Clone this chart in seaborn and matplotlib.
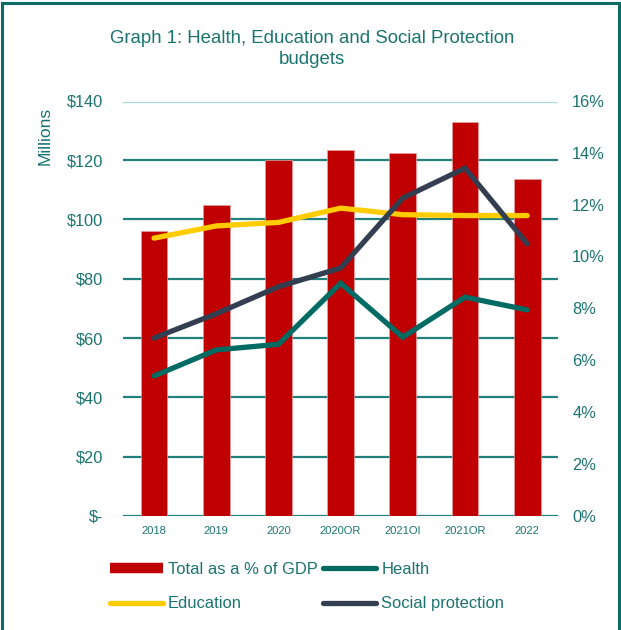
import matplotlib
matplotlib.use("Agg")
import matplotlib.pyplot as plt
from matplotlib.lines import Line2D
from matplotlib.patches import Rectangle
import seaborn as sns
import pandas as pd

years = ["2018", "2019", "2020", "2020OR", "2021OI", "2021OR", "2022"]
total_pct_gdp = [11.0, 12.0, 13.7, 14.1, 14.0, 15.2, 13.0]
health = [47.2, 56.0, 57.9, 78.5, 60.3, 73.8, 69.5]
education = [93.7, 97.8, 99.0, 103.8, 101.6, 101.3, 101.3]
social_protection = [60.0, 68.2, 77.3, 83.6, 107.2, 117.3, 91.8]

left_ticks = [0, 20, 40, 60, 80, 100, 120, 140]
right_ticks = [0, 2, 4, 6, 8, 10, 12, 14, 16]

TEAL_TEXT = "#1b7470"
GRID = "#21807c"
RED = "#c00000"
C_HEALTH = "#006b63"
C_EDU = "#ffcc00"
C_SOC = "#333f50"

sns.set_theme(style="white")
plt.rcParams["font.family"] = ["Liberation Sans", "DejaVu Sans"]

fig = plt.figure(figsize=(6.21, 6.30), dpi=100)
ax_bar = fig.add_axes([0.198, 0.181, 0.701, 0.659])
ax_line = ax_bar.twinx()

bars = pd.DataFrame({"year": years, "pct": total_pct_gdp})
sns.barplot(data=bars, x="year", y="pct", order=years, color=RED,
            width=0.43, saturation=1, edgecolor="#e8a0a0", linewidth=0.5,
            ax=ax_bar)
ax_bar.set_ylim(0, 16)
ax_bar.set_xlim(-0.5, len(years) - 0.5)

lines = pd.DataFrame({"year": years * 3,
                      "value": health + education + social_protection,
                      "series": ["Health"] * 7 + ["Education"] * 7
                                + ["Social protection"] * 7})
sns.lineplot(data=lines, x="year", y="value", hue="series", sort=False,
             palette={"Health": C_HEALTH, "Education": C_EDU,
                      "Social protection": C_SOC},
             linewidth=3.8, legend=False, ax=ax_line)
for ln in ax_line.get_lines():
    ln.set_solid_capstyle("round")
    ln.set_solid_joinstyle("miter")
ax_line.set_ylim(0, 140)

# gridlines on the millions axis
for v in left_ticks:
    y = v / 140 * 16
    if v == 140:
        ax_bar.axhline(y, color="#a9dcd9", lw=2.4, zorder=0.5)
        ax_bar.axhline(y, color="white", lw=0.7, zorder=0.6)
    else:
        ax_bar.axhline(y, color=GRID, lw=1.6, zorder=0.5)

# percent axis on the right, millions axis on the left
ax_bar.yaxis.tick_right()
ax_bar.yaxis.set_label_position("right")
ax_line.yaxis.tick_left()
ax_line.yaxis.set_label_position("left")

ax_bar.set_yticks(right_ticks)
ax_bar.set_yticklabels([f"{t}%" for t in right_ticks])
ax_line.set_yticks(left_ticks)
ax_line.set_yticklabels(["$-" if t == 0 else f"${t}" for t in left_ticks])

ax_bar.tick_params(axis="y", length=0, pad=10, labelsize=11.8, labelcolor=TEAL_TEXT)
ax_line.tick_params(axis="y", length=0, pad=14, labelsize=11.8, labelcolor=TEAL_TEXT)
ax_bar.tick_params(axis="x", length=0, pad=7, labelsize=8, labelcolor=TEAL_TEXT)
ax_bar.set_xlabel("")
ax_bar.set_ylabel("")
ax_line.set_xlabel("")
ax_line.set_ylabel("")
ax_line.grid(False)
ax_bar.grid(False)
for a in (ax_bar, ax_line):
    for s in a.spines.values():
        s.set_visible(False)

fig.text(0.072, 0.784, "Millions", rotation=90, ha="center", va="center",
         fontsize=12.5, color=TEAL_TEXT)

fig.text(0.503, 0.922, "Graph 1: Health, Education and Social Protection\nbudgets",
         ha="center", va="center", fontsize=13.4, color=TEAL_TEXT,
         linespacing=1.3)

handles = [
    Line2D([0], [0], color=RED, lw=7.5, solid_capstyle="butt"),
    Line2D([0], [0], color=C_EDU, lw=3.8, solid_capstyle="round"),
    Line2D([0], [0], color=C_HEALTH, lw=3.8, solid_capstyle="round"),
    Line2D([0], [0], color=C_SOC, lw=3.8, solid_capstyle="round"),
]
labels = ["Total as a % of GDP", "Education", "Health", "Social protection"]
leg = fig.legend(handles, labels, ncol=2, loc="upper left",
                 bbox_to_anchor=(0.177, 0.108), frameon=False,
                 fontsize=11.9, handlelength=3.2, handletextpad=0.3,
                 columnspacing=0.35, labelspacing=1.17, borderaxespad=0,
                 borderpad=0)
for t in leg.get_texts():
    t.set_color(TEAL_TEXT)

fig.patches.append(Rectangle((0.004, -0.05), 0.992, 1.045,
                             transform=fig.transFigure, fill=False,
                             edgecolor="#0f6b66", lw=2.2))

fig.savefig("out.png", dpi=100)
